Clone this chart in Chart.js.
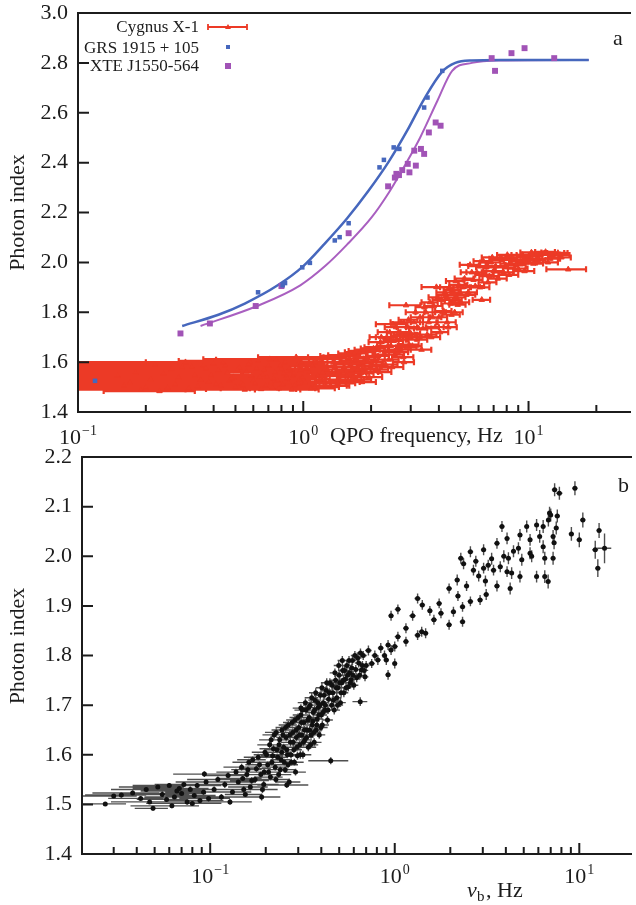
<!DOCTYPE html>
<html>
<head>
<meta charset="utf-8">
<script src="https://cdn.jsdelivr.net/npm/chart.js@4.4.0/dist/chart.umd.min.js"></script>
<style>
  body { margin: 0; background: #fff; width: 636px; height: 905px; overflow: hidden; position: relative; }
  canvas { position: absolute; left: 0; }
  #panelA { top: 0; }
  #panelB { top: 440px; }
</style>
</head>
<body>
<canvas id="panelA" width="636" height="450"></canvas>
<canvas id="panelB" width="636" height="465"></canvas>
<script>
// ---------- panel a : photon index vs QPO frequency ----------
// Cygnus X-1 (QPO freq, Hz / photon index / freq error)
const cygFreq = [
  0.30, 0.36, 0.26, 0.42, 0.24, 0.33, 0.21, 0.46, 0.38, 0.27,
  0.20, 0.43, 0.31, 0.55, 0.23, 0.49, 0.17, 0.15, 0.19, 0.35,
  0.29, 0.40, 0.52, 0.58, 0.62, 0.56, 0.66, 0.60, 0.72, 0.68,
  0.78, 0.53, 0.84, 0.88, 0.94, 0.76, 0.98, 0.45, 0.70, 0.80,
  0.64, 0.74, 0.86, 0.92, 0.96, 0.50, 0.47, 0.82, 0.90,
  1.02, 1.06, 1.10, 1.12, 1.16, 1.20, 1.24, 1.28, 1.32, 1.36,
  1.40, 1.44, 1.48, 1.52, 1.56, 1.60, 1.64, 1.68, 1.72, 1.76,
  1.80, 1.84, 1.88, 1.92, 1.96, 2.00,
  2.05, 2.10, 2.15, 2.20, 2.25, 2.30, 2.35, 2.40, 2.45, 2.50,
  2.55, 2.60, 2.65, 2.70, 2.75, 2.80, 2.86, 2.90, 2.95,
  3.00, 3.10, 3.20, 3.30, 3.40, 3.50, 3.60, 3.70, 3.80, 3.90,
  4.00, 4.10, 4.20, 4.30, 4.40, 4.50, 4.60, 4.70, 4.80, 4.90,
  5.00, 5.20, 5.40, 5.60, 5.80, 6.00, 6.20, 6.40, 6.60, 6.80, 7.00, 7.30, 7.60, 7.90,
  8.20, 8.50, 8.80, 9.20, 9.60, 10.0, 10.5, 11.0, 11.6, 12.2, 12.8, 13.5, 14.0, 15.0
];
const cygIndex = [
  1.600, 1.585, 1.572, 1.568, 1.555, 1.548, 1.532, 1.560, 1.522, 1.512,
  1.500, 1.506, 1.495, 1.490, 1.484, 1.540, 1.520, 1.545, 1.490, 1.530,
  1.580, 1.595, 1.578, 1.600, 1.575, 1.562, 1.550, 1.528, 1.520, 1.505,
  1.495, 1.515, 1.545, 1.565, 1.590, 1.610, 1.598, 1.587, 1.585, 1.572,
  1.540, 1.535, 1.520, 1.508, 1.530, 1.500, 1.525, 1.555, 1.545,
  1.520, 1.560, 1.585, 1.500, 1.545, 1.612, 1.530, 1.570, 1.505, 1.598,
  1.550, 1.625, 1.520, 1.580, 1.545, 1.615, 1.565, 1.635, 1.530, 1.595,
  1.555, 1.645, 1.575, 1.620, 1.540, 1.600,
  1.655, 1.570, 1.625, 1.680, 1.590, 1.645, 1.700, 1.610, 1.665, 1.752,
  1.630, 1.690, 1.720, 1.650, 1.705, 1.600, 1.828, 1.740, 1.670,
  1.715, 1.760, 1.690, 1.780, 1.735, 1.800, 1.760, 1.700, 1.825, 1.901,
  1.780, 1.850, 1.805, 1.870, 1.740, 1.835, 1.890, 1.800, 1.860, 1.910,
  1.840, 1.935, 1.880, 1.960, 1.905, 1.985, 1.850, 1.950, 1.920, 2.000, 1.965, 1.935, 2.010, 1.980,
  1.950, 2.020, 1.990, 2.005, 1.965, 2.025, 1.995, 2.015, 2.035, 2.000, 2.030, 2.038, 2.020, 1.972
];
const cygFreqErr = [
  0.26, 0.32, 0.22, 0.36, 0.21, 0.29, 0.15, 0.40, 0.33, 0.24,
  0.14, 0.36, 0.27, 0.42, 0.10, 0.41, 0.09, 0.07, 0.11, 0.25,
  0.20, 0.30, 0.35, 0.38, 0.35, 0.32, 0.40, 0.36, 0.35, 0.38,
  0.35, 0.33, 0.30, 0.35, 0.30, 0.35, 0.30, 0.30, 0.25, 0.25,
  0.22, 0.25, 0.20, 0.22, 0.25, 0.25, 0.28, 0.22, 0.20,
  0.30, 0.28, 0.30, 0.32, 0.25, 0.28, 0.30, 0.25, 0.28, 0.25,
  0.25, 0.25, 0.30, 0.25, 0.25, 0.25, 0.25, 0.25, 0.28, 0.25,
  0.25, 0.25, 0.25, 0.25, 0.28, 0.25,
  0.25, 0.28, 0.25, 0.25, 0.25, 0.25, 0.25, 0.25, 0.25, 0.40,
  0.25, 0.30, 0.30, 0.30, 0.30, 0.30, 0.45, 0.30, 0.30,
  0.30, 0.30, 0.35, 0.30, 0.30, 0.35, 0.30, 0.35, 0.35, 0.55,
  0.35, 0.35, 0.35, 0.40, 0.40, 0.40, 0.40, 0.40, 0.45, 0.45,
  0.45, 0.50, 0.50, 0.60, 0.55, 0.60, 0.55, 0.60, 0.60, 0.70, 0.70, 0.70, 0.80, 0.80,
  0.80, 0.90, 0.90, 1.00, 1.00, 1.10, 1.10, 1.20, 1.20, 1.30, 1.30, 1.40, 1.40, 3.00
];
// more Cygnus X-1 points filling the dense band
const cygFreqMore = [
  0.16, 0.18, 0.22, 0.25, 0.28, 0.32, 0.34, 0.37, 0.39, 0.41, 0.44, 0.48,
  0.51, 0.54, 0.57, 0.59, 0.61, 0.63, 0.65, 0.67, 0.69, 0.71, 0.73, 0.75,
  0.77, 0.79, 0.81, 0.83, 0.85, 0.87, 0.89, 0.91, 0.93, 0.95, 0.97, 0.99,
  1.03, 1.08, 1.13, 1.18, 1.22, 1.26, 1.30, 1.34, 1.38, 1.42, 1.46, 1.50,
  1.54, 1.58, 1.62, 1.66, 1.70, 1.74, 1.78, 1.82, 1.86, 1.90, 1.94, 1.98,
  2.08, 2.12, 2.18, 2.22, 2.28, 2.32, 2.38, 2.42, 2.48, 2.52,
  2.58, 2.62, 2.68, 2.72, 2.78, 2.83, 2.88, 2.93, 2.98,
  3.05, 3.15, 3.25, 3.35, 3.45, 3.55, 3.65, 3.75, 3.85, 3.95,
  4.05, 4.15, 4.25, 4.35, 4.45, 4.55, 4.65, 4.75, 4.85, 4.95,
  5.10, 5.30, 5.50, 5.70, 5.90, 6.10, 6.30, 6.50, 6.70, 6.90,
  7.15, 7.45, 7.75, 8.05, 8.35, 8.65, 9.00, 9.40, 9.80,
  10.3, 10.8, 11.3, 11.9, 12.5, 13.1, 13.8
];
const cygIndexMore = [
  1.505, 1.560, 1.590, 1.498, 1.540, 1.582, 1.503, 1.575, 1.548, 1.512, 1.598, 1.535,
  1.568, 1.508, 1.590, 1.545, 1.515, 1.605, 1.492, 1.570, 1.540, 1.612, 1.498, 1.560,
  1.525, 1.585, 1.510, 1.600, 1.535, 1.575, 1.490, 1.555, 1.620, 1.515, 1.568, 1.540,
  1.575, 1.495, 1.600, 1.530, 1.558, 1.505, 1.620, 1.548, 1.580, 1.515, 1.600, 1.560,
  1.628, 1.525, 1.590, 1.540, 1.605, 1.570, 1.640, 1.520, 1.600, 1.560, 1.650, 1.585,
  1.610, 1.660, 1.560, 1.700, 1.630, 1.590, 1.665, 1.720, 1.580, 1.685,
  1.740, 1.640, 1.690, 1.760, 1.620, 1.710, 1.660, 1.770, 1.700,
  1.665, 1.800, 1.735, 1.650, 1.820, 1.710, 1.840, 1.780, 1.740, 1.860,
  1.720, 1.800, 1.880, 1.760, 1.900, 1.790, 1.850, 1.925, 1.830, 1.880,
  1.900, 1.870, 1.990, 1.930, 1.960, 1.900, 2.005, 1.980, 1.945, 2.020,
  1.985, 2.015, 1.960, 2.030, 1.995, 2.010, 1.975, 2.030, 2.000,
  2.040, 2.010, 2.030, 2.042, 2.015, 2.038, 2.030
];
const cygFreqErrMore = [
  0.08, 0.10, 0.15, 0.20, 0.18, 0.25, 0.22, 0.28, 0.30, 0.25, 0.35, 0.30,
  0.32, 0.28, 0.35, 0.30, 0.30, 0.35, 0.28, 0.32, 0.30, 0.35, 0.30, 0.30,
  0.28, 0.30, 0.30, 0.32, 0.28, 0.30, 0.28, 0.28, 0.30, 0.28, 0.30, 0.28,
  0.25, 0.30, 0.25, 0.28, 0.25, 0.30, 0.25, 0.25, 0.25, 0.28, 0.25, 0.25,
  0.25, 0.28, 0.25, 0.25, 0.25, 0.25, 0.25, 0.28, 0.25, 0.25, 0.25, 0.25,
  0.22, 0.25, 0.28, 0.25, 0.25, 0.30, 0.25, 0.28, 0.30, 0.25,
  0.28, 0.30, 0.25, 0.28, 0.30, 0.30, 0.30, 0.28, 0.30,
  0.30, 0.30, 0.30, 0.35, 0.30, 0.35, 0.30, 0.35, 0.35, 0.35,
  0.35, 0.40, 0.35, 0.40, 0.40, 0.40, 0.40, 0.45, 0.40, 0.45,
  0.45, 0.50, 0.55, 0.55, 0.60, 0.60, 0.60, 0.65, 0.65, 0.70,
  0.70, 0.75, 0.80, 0.80, 0.85, 0.90, 0.90, 1.00, 1.00,
  1.10, 1.10, 1.20, 1.20, 1.30, 1.30, 1.40
];

// GRS 1915+105 points and model curve
const grsFreq  = [0.119, 0.63, 0.81, 0.83, 0.99, 1.07, 1.38, 1.45, 1.59, 2.18, 2.28, 2.52, 2.67, 3.44, 3.56, 4.14];
const grsIndex = [1.525, 1.880, 1.908, 1.917, 1.980, 1.998, 2.088, 2.101, 2.157, 2.381, 2.411, 2.461, 2.455, 2.621, 2.661, 2.768];
const grsFitFreq  = [0.29, 0.42, 0.55, 0.77, 1.00, 1.23, 1.56, 1.94, 2.40, 2.90, 3.44, 4.14, 4.73, 5.6, 7.5, 18.5];
const grsFitIndex = [1.745, 1.790, 1.835, 1.908, 1.985, 2.070, 2.175, 2.285, 2.405, 2.530, 2.655, 2.765, 2.800, 2.810, 2.812, 2.812];

// XTE J1550-564 points and model curve
const xteFreq  = [0.285, 0.385, 0.615, 0.80, 1.59, 2.38, 2.55, 2.59, 2.66, 2.75, 2.91, 2.96, 3.11, 3.16, 3.33, 3.44, 3.61, 3.87, 4.07, 6.86, 7.10, 8.40, 9.60, 13.0];
const xteIndex = [1.715, 1.755, 1.825, 1.905, 2.117, 2.305, 2.340, 2.355, 2.350, 2.370, 2.395, 2.361, 2.448, 2.388, 2.455, 2.435, 2.521, 2.561, 2.548, 2.819, 2.768, 2.839, 2.859, 2.819];
const xteFitFreq  = [0.35, 0.62, 0.97, 1.25, 1.56, 2.01, 2.40, 2.85, 3.30, 3.94, 4.58, 5.6, 7.5, 18.5];
const xteFitIndex = [1.745, 1.824, 1.908, 1.985, 2.070, 2.180, 2.280, 2.395, 2.500, 2.648, 2.768, 2.800, 2.810, 2.812];

const aMajorTicks = [0.1, 1, 10];
const aMinorTicks = [0.2, 0.3, 0.4, 0.5, 0.6, 0.7, 0.8, 0.9, 2, 3, 4, 5, 6, 7, 8, 9, 20];
const aTickExps = ['\u22121', '0', '1'];

// ---------- panel b : photon index vs break frequency ----------
const bFreq = [
  // 0.02 - 0.1 Hz
  0.027, 0.030, 0.033, 0.038, 0.042, 0.045, 0.047, 0.049, 0.052, 0.055,
  0.058, 0.060, 0.062, 0.064, 0.066, 0.068, 0.070, 0.072, 0.075, 0.078,
  0.080, 0.082, 0.085, 0.088, 0.092, 0.095, 0.098,
  // 0.1 - 0.2 Hz
  0.093, 0.105, 0.110, 0.115, 0.120, 0.125, 0.128, 0.132, 0.138, 0.142,
  0.148, 0.152, 0.158, 0.162, 0.168, 0.190, 0.178, 0.182, 0.188, 0.195, 0.198,
  // 0.2 - 0.3 Hz
  0.205, 0.210, 0.212, 0.218, 0.222, 0.225, 0.230, 0.235, 0.238, 0.242,
  0.245, 0.250, 0.255, 0.258, 0.262, 0.265, 0.268, 0.272, 0.275, 0.280,
  0.284, 0.288, 0.290, 0.293, 0.297, 0.260, 0.310,
  // 0.3 - 0.45 Hz
  0.302, 0.306, 0.310, 0.314, 0.318, 0.322, 0.326, 0.330, 0.335, 0.340,
  0.344, 0.348, 0.352, 0.357, 0.362, 0.366, 0.370, 0.375, 0.380, 0.385,
  0.390, 0.395, 0.400, 0.405, 0.410, 0.418, 0.425, 0.432, 0.438, 0.445, 0.450,
  // 0.45 - 0.7 Hz
  0.455, 0.462, 0.470, 0.478, 0.485, 0.492, 0.500, 0.508, 0.515, 0.522,
  0.530, 0.540, 0.550, 0.560, 0.570, 0.580, 0.590, 0.600, 0.615, 0.630,
  0.645, 0.650, 0.660, 0.675, 0.690,
  // 0.7 - 1 Hz
  0.700, 0.720, 0.750, 0.780, 0.810, 0.840, 0.880, 0.900, 0.920, 0.920, 0.955, 0.955, 1.000,
  // 1 - 2 Hz
  1.000, 1.040, 1.040, 1.150, 1.150, 1.250, 1.330, 1.330, 1.400, 1.410,
  1.470, 1.550, 1.630, 1.740, 1.780, 1.970, 1.970, 2.080,
  // 2 - 4 Hz
  2.180, 2.200, 2.280, 2.330, 2.330, 2.360, 2.450, 2.570, 2.570, 2.670,
  2.750, 2.850, 2.900, 3.030, 3.030, 3.100, 3.130, 3.210, 3.350, 3.430,
  3.580, 3.580, 3.730, 3.810, 3.900,
  // 4 - 8 Hz
  4.06, 4.06, 4.13, 4.22, 4.30, 4.40, 4.68, 4.77, 4.77, 4.88,
  5.19, 5.41, 5.41, 5.52, 5.87, 5.87, 6.10, 6.37, 6.37, 6.50,
  6.50, 6.78, 6.80, 6.90, 7.00, 7.21, 7.21, 7.30, 7.35, 7.50, 7.60, 7.80,
  // 8 - 14 Hz
  9.06, 9.47, 10.00, 10.45, 12.20, 12.60, 12.80, 13.70
];
const bIndex = [
  1.501, 1.517, 1.519, 1.523, 1.512, 1.530, 1.505, 1.492, 1.535, 1.520,
  1.510, 1.538, 1.497, 1.515, 1.527, 1.532, 1.522, 1.540, 1.505, 1.530,
  1.502, 1.518, 1.538, 1.508, 1.525, 1.545, 1.512,
  1.561, 1.530, 1.550, 1.515, 1.540, 1.558, 1.505, 1.525, 1.565, 1.545,
  1.575, 1.530, 1.560, 1.585, 1.548, 1.515, 1.572, 1.595, 1.560, 1.540, 1.605,
  1.580, 1.620, 1.555, 1.598, 1.640, 1.575, 1.610, 1.560, 1.630, 1.590,
  1.650, 1.615, 1.570, 1.635, 1.600, 1.660, 1.545, 1.625, 1.585, 1.645,
  1.610, 1.670, 1.565, 1.635, 1.598, 1.539, 1.694,
  1.655, 1.620, 1.680, 1.640, 1.600, 1.665, 1.630, 1.690, 1.650, 1.615,
  1.675, 1.700, 1.640, 1.660, 1.685, 1.625, 1.710, 1.650, 1.672, 1.695,
  1.640, 1.720, 1.680, 1.660, 1.705, 1.690, 1.730, 1.670, 1.712, 1.745, 1.588,
  1.700, 1.725, 1.690, 1.750, 1.715, 1.735, 1.760, 1.705, 1.745, 1.770,
  1.725, 1.752, 1.780, 1.737, 1.765, 1.751, 1.790, 1.740, 1.772, 1.795,
  1.760, 1.707, 1.771, 1.800, 1.757,
  1.780, 1.810, 1.784, 1.800, 1.791, 1.815, 1.800, 1.791, 1.821, 1.761, 1.811, 1.880, 1.784,
  1.818, 1.838, 1.893, 1.855, 1.828, 1.880, 1.841, 1.915, 1.848, 1.902,
  1.845, 1.890, 1.872, 1.905, 1.885, 1.862, 1.935, 1.888,
  1.952, 1.920, 1.996, 1.868, 1.898, 1.985, 1.940, 2.009, 1.909, 1.972,
  1.990, 1.960, 1.912, 1.976, 2.013, 1.950, 1.923, 1.982, 1.995, 1.972,
  1.940, 2.026, 1.979, 2.060, 2.000,
  1.969, 2.036, 1.996, 1.935, 1.966, 2.010, 2.016, 2.043, 1.959, 1.993,
  2.060, 2.033, 2.006, 2.000, 1.959, 2.063, 2.040, 2.060, 2.019, 1.996,
  1.959, 1.949, 2.073, 2.087, 2.083, 2.040, 1.996, 2.027, 2.134, 2.057, 2.081, 2.127,
  2.045, 2.137, 2.033, 2.073, 2.013, 1.976, 2.052, 2.016
];
const bFreqErr = [
  0.008, 0.010, 0.012, 0.015, 0.014, 0.016, 0.018, 0.010, 0.020, 0.022,
  0.018, 0.022, 0.025, 0.020, 0.024, 0.030, 0.025, 0.022, 0.030, 0.028,
  0.035, 0.025, 0.030, 0.030, 0.035, 0.030, 0.030,
  0.030, 0.030, 0.035, 0.040, 0.035, 0.030, 0.040, 0.035, 0.030, 0.035,
  0.030, 0.040, 0.035, 0.030, 0.040, 0.050, 0.035, 0.030, 0.035, 0.040, 0.030,
  0.030, 0.030, 0.035, 0.030, 0.030, 0.035, 0.030, 0.040, 0.030, 0.030,
  0.030, 0.030, 0.035, 0.030, 0.030, 0.030, 0.040, 0.030, 0.030, 0.030,
  0.030, 0.030, 0.040, 0.030, 0.030, 0.080, 0.030,
  0.030, 0.030, 0.030, 0.030, 0.035, 0.030, 0.030, 0.030, 0.030, 0.035,
  0.030, 0.030, 0.030, 0.030, 0.030, 0.035, 0.030, 0.030, 0.030, 0.030,
  0.030, 0.030, 0.030, 0.035, 0.030, 0.030, 0.030, 0.030, 0.030, 0.030, 0.110,
  0.030, 0.030, 0.035, 0.030, 0.030, 0.030, 0.030, 0.035, 0.030, 0.030,
  0.030, 0.030, 0.030, 0.030, 0.030, 0.030, 0.030, 0.035, 0.030, 0.030,
  0.030, 0.060, 0.030, 0.030, 0.030,
  0.030, 0.030, 0.030, 0.030, 0.030, 0.030, 0.030, 0.030, 0.030, 0.030, 0.030, 0.030, 0.030,
  0.040, 0.040, 0.040, 0.040, 0.040, 0.050, 0.050, 0.050, 0.050, 0.050,
  0.050, 0.050, 0.060, 0.060, 0.060, 0.070, 0.070, 0.070,
  0.070, 0.070, 0.080, 0.080, 0.080, 0.080, 0.080, 0.090, 0.090, 0.090,
  0.090, 0.090, 0.100, 0.100, 0.100, 0.100, 0.100, 0.100, 0.100, 0.120,
  0.120, 0.120, 0.120, 0.120, 0.120,
  0.12, 0.12, 0.12, 0.12, 0.13, 0.13, 0.14, 0.14, 0.14, 0.14,
  0.15, 0.15, 0.15, 0.15, 0.16, 0.16, 0.17, 0.18, 0.18, 0.18,
  0.18, 0.19, 0.20, 0.19, 0.20, 0.20, 0.20, 0.22, 0.25, 0.22, 0.25, 0.30,
  0.30, 0.30, 0.35, 0.35, 0.45, 0.40, 0.40, 1.20
];
const bIndexErr = [
  0.004, 0.004, 0.005, 0.005, 0.004, 0.005, 0.004, 0.005, 0.005, 0.006,
  0.005, 0.005, 0.005, 0.006, 0.005, 0.005, 0.006, 0.005, 0.006, 0.006,
  0.006, 0.006, 0.005, 0.006, 0.006, 0.006, 0.006,
  0.006, 0.006, 0.006, 0.006, 0.007, 0.006, 0.006, 0.006, 0.007, 0.006,
  0.007, 0.007, 0.006, 0.007, 0.007, 0.007, 0.007, 0.007, 0.007, 0.007, 0.007,
  0.007, 0.007, 0.007, 0.007, 0.008, 0.007, 0.007, 0.007, 0.008, 0.007,
  0.008, 0.007, 0.007, 0.008, 0.007, 0.008, 0.007, 0.008, 0.007, 0.008,
  0.007, 0.008, 0.007, 0.008, 0.008, 0.006, 0.008,
  0.008, 0.008, 0.008, 0.008, 0.008, 0.008, 0.008, 0.008, 0.008, 0.008,
  0.008, 0.008, 0.008, 0.008, 0.008, 0.008, 0.008, 0.008, 0.008, 0.008,
  0.008, 0.008, 0.008, 0.008, 0.008, 0.008, 0.009, 0.008, 0.009, 0.009, 0.007,
  0.009, 0.009, 0.009, 0.009, 0.009, 0.009, 0.009, 0.009, 0.009, 0.009,
  0.009, 0.009, 0.009, 0.009, 0.009, 0.009, 0.009, 0.009, 0.009, 0.009,
  0.009, 0.009, 0.009, 0.009, 0.009,
  0.009, 0.010, 0.009, 0.010, 0.010, 0.010, 0.010, 0.010, 0.010, 0.010, 0.010, 0.010, 0.010,
  0.010, 0.010, 0.010, 0.010, 0.010, 0.010, 0.010, 0.010, 0.010, 0.010,
  0.010, 0.010, 0.010, 0.010, 0.010, 0.010, 0.010, 0.010,
  0.011, 0.010, 0.011, 0.010, 0.010, 0.011, 0.010, 0.011, 0.010, 0.011,
  0.011, 0.011, 0.010, 0.011, 0.011, 0.011, 0.011, 0.011, 0.012, 0.011,
  0.011, 0.011, 0.011, 0.011, 0.012,
  0.011, 0.012, 0.012, 0.012, 0.012, 0.012, 0.012, 0.012, 0.012, 0.012,
  0.012, 0.012, 0.012, 0.012, 0.012, 0.012, 0.013, 0.013, 0.013, 0.013,
  0.013, 0.014, 0.013, 0.013, 0.013, 0.013, 0.013, 0.013, 0.013, 0.013, 0.013, 0.013,
  0.014, 0.014, 0.015, 0.015, 0.018, 0.018, 0.015, 0.030
];
// extra points of the dense part (0.15 - 0.7 Hz)
const bFreqDense = [
  0.150, 0.155, 0.160, 0.165, 0.170, 0.175, 0.185, 0.192, 0.196,
  0.202, 0.207, 0.214, 0.216, 0.220, 0.227, 0.228, 0.232, 0.236, 0.240, 0.244, 0.248,
  0.252, 0.256, 0.260, 0.264, 0.270, 0.274, 0.278, 0.282, 0.286, 0.292, 0.295, 0.299,
  0.304, 0.308, 0.312, 0.316, 0.320, 0.324, 0.328, 0.333, 0.338, 0.342,
  0.346, 0.350, 0.355, 0.360, 0.364, 0.368, 0.373, 0.378, 0.383, 0.388,
  0.393, 0.398, 0.403, 0.408, 0.414, 0.421, 0.428, 0.435, 0.442,
  0.458, 0.466, 0.474, 0.482, 0.490, 0.497, 0.504, 0.512, 0.520, 0.527,
  0.535, 0.545, 0.555, 0.565, 0.575, 0.585, 0.595, 0.608, 0.622, 0.638,
  0.652, 0.668, 0.683
];
const bIndexDense = [
  1.552, 1.520, 1.570, 1.535, 1.590, 1.550, 1.580, 1.530, 1.565,
  1.600, 1.565, 1.630, 1.585, 1.612, 1.550, 1.645, 1.595, 1.620, 1.570, 1.605, 1.640,
  1.585, 1.655, 1.610, 1.580, 1.640, 1.600, 1.665, 1.625, 1.585, 1.650, 1.615, 1.675,
  1.640, 1.600, 1.665, 1.690, 1.625, 1.650, 1.705, 1.635, 1.670, 1.695,
  1.650, 1.620, 1.715, 1.668, 1.645, 1.690, 1.725, 1.660, 1.705, 1.680,
  1.700, 1.655, 1.735, 1.685, 1.720, 1.700, 1.745, 1.690, 1.725,
  1.740, 1.710, 1.765, 1.735, 1.700, 1.780, 1.745, 1.725, 1.790, 1.750,
  1.770, 1.735, 1.760, 1.790, 1.745, 1.775, 1.760, 1.800, 1.755, 1.785,
  1.805, 1.780, 1.770
];
const bFreqErrDense = [
  0.040, 0.035, 0.030, 0.040, 0.030, 0.035, 0.030, 0.040, 0.030,
  0.030, 0.035, 0.030, 0.030, 0.035, 0.040, 0.030, 0.030, 0.030, 0.035, 0.030, 0.030,
  0.035, 0.030, 0.030, 0.035, 0.030, 0.030, 0.030, 0.030, 0.035, 0.030, 0.030, 0.030,
  0.030, 0.035, 0.030, 0.030, 0.035, 0.030, 0.030, 0.030, 0.030, 0.030,
  0.030, 0.035, 0.030, 0.030, 0.035, 0.030, 0.030, 0.030, 0.030, 0.030,
  0.030, 0.035, 0.030, 0.030, 0.030, 0.030, 0.030, 0.035, 0.030,
  0.030, 0.035, 0.030, 0.030, 0.035, 0.030, 0.030, 0.035, 0.030, 0.030,
  0.030, 0.035, 0.030, 0.030, 0.035, 0.030, 0.030, 0.030, 0.035, 0.030,
  0.030, 0.030, 0.035
];
const bIndexErrDense = [
  0.007, 0.006, 0.007, 0.007, 0.007, 0.007, 0.007, 0.007, 0.007,
  0.007, 0.007, 0.008, 0.007, 0.007, 0.007, 0.008, 0.007, 0.008, 0.007, 0.007, 0.008,
  0.007, 0.008, 0.007, 0.007, 0.008, 0.007, 0.008, 0.008, 0.007, 0.008, 0.008, 0.008,
  0.008, 0.008, 0.008, 0.008, 0.008, 0.008, 0.008, 0.008, 0.008, 0.008,
  0.008, 0.008, 0.009, 0.008, 0.008, 0.008, 0.009, 0.008, 0.008, 0.008,
  0.008, 0.008, 0.009, 0.008, 0.009, 0.008, 0.009, 0.008, 0.009,
  0.009, 0.009, 0.009, 0.009, 0.009, 0.009, 0.009, 0.009, 0.009, 0.009,
  0.009, 0.009, 0.009, 0.009, 0.009, 0.009, 0.009, 0.009, 0.009, 0.009,
  0.009, 0.009, 0.009
];

const bMajorTicks = [0.1, 1, 10];
const bMinorTicks = [0.03, 0.04, 0.05, 0.06, 0.07, 0.08, 0.09, 0.2, 0.3, 0.4, 0.5, 0.6, 0.7, 0.8, 0.9, 2, 3, 4, 5, 6, 7, 8, 9];
const bTickExps = ['\u22121', '0', '1'];

// ---------- styling ----------
const SERIF = '"Liberation Serif", "Times New Roman", serif';
const INK = '#1c1c1c';
const RED = '#ec3a26';
const BLUE = '#4667bd';
const PURPLE = '#a153b6';

const pts = (xs, ys) => xs.map((x, i) => ({x: x, y: ys[i]}));

const allCygF = cygFreq.concat(cygFreqMore);
const allCygG = cygIndex.concat(cygIndexMore);
const allCygE = cygFreqErr.concat(cygFreqErrMore);
const allBF = bFreq.concat(bFreqDense);
const allBG = bIndex.concat(bIndexDense);
const allBFE = bFreqErr.concat(bFreqErrDense);
const allBGE = bIndexErr.concat(bIndexErrDense);

// error bars, drawn under the markers and clipped to the plot area
const errBars = {
  id: 'errBars',
  beforeDatasetsDraw(chart, args, opts) {
    const {ctx, chartArea: a, scales: {x, y}} = chart;
    ctx.save();
    ctx.beginPath();
    ctx.rect(a.left, a.top, a.right - a.left, a.bottom - a.top);
    ctx.clip();
    opts.sets.forEach(s => {
      ctx.strokeStyle = s.color;
      ctx.lineWidth = s.width;
      ctx.beginPath();
      s.f.forEach((f, i) => {
        const py = y.getPixelForValue(s.g[i]);
        const lo = f - s.df[i] > 0 ? x.getPixelForValue(f - s.df[i]) : a.left - 5;
        const hi = x.getPixelForValue(f + s.df[i]);
        ctx.moveTo(lo, py); ctx.lineTo(hi, py);
        if (s.cap) {
          ctx.moveTo(lo, py - s.cap); ctx.lineTo(lo, py + s.cap);
          ctx.moveTo(hi, py - s.cap); ctx.lineTo(hi, py + s.cap);
        }
        if (s.dg) {
          const px = x.getPixelForValue(f);
          ctx.moveTo(px, y.getPixelForValue(s.g[i] - s.dg[i]));
          ctx.lineTo(px, y.getPixelForValue(s.g[i] + s.dg[i]));
        }
      });
      ctx.stroke();
    });
    ctx.restore();
  }
};

function powerLabel(ctx, x, base, exp) {
  ctx.font = '22px ' + SERIF;
  const wb = ctx.measureText('10').width;
  ctx.font = '14px ' + SERIF;
  const we = ctx.measureText(exp).width;
  const x0 = x - (wb + we + 1) / 2;
  ctx.textAlign = 'left';
  ctx.textBaseline = 'alphabetic';
  ctx.font = '22px ' + SERIF;
  ctx.fillText('10', x0, base);
  ctx.font = '14px ' + SERIF;
  ctx.fillText(exp, x0 + wb + 1, base - 9);
}

// axes frame, inward ticks, log tick labels and axis titles
const frame = {
  id: 'frame',
  afterDraw(chart, args, o) {
    const {ctx, chartArea: a, scales: {x, y}} = chart;
    ctx.save();
    ctx.strokeStyle = INK;
    ctx.lineWidth = 2;
    ctx.beginPath();
    ctx.moveTo(a.left - 1, a.top); ctx.lineTo(a.right, a.top);
    ctx.moveTo(a.left, a.top); ctx.lineTo(a.left, a.bottom); ctx.lineTo(a.right, a.bottom);
    o.major.forEach(v => {
      const px = x.getPixelForValue(v);
      ctx.moveTo(px, a.bottom); ctx.lineTo(px, a.bottom - 11);
    });
    o.minor.forEach(v => {
      const px = x.getPixelForValue(v);
      ctx.moveTo(px, a.bottom); ctx.lineTo(px, a.bottom - 7);
    });
    y.ticks.forEach(t => {
      const py = y.getPixelForValue(t.value);
      ctx.moveTo(a.left, py); ctx.lineTo(a.left + 11, py);
    });
    ctx.stroke();

    ctx.fillStyle = INK;
    o.major.forEach((v, i) => powerLabel(ctx, x.getPixelForValue(v), o.tickBase, o.exps[i]));

    ctx.save();
    ctx.translate(18, o.yTitleY);
    ctx.rotate(-Math.PI / 2);
    ctx.font = '22px ' + SERIF;
    ctx.textAlign = 'center';
    ctx.textBaseline = 'middle';
    ctx.fillText('Photon index', 0, 0);
    ctx.restore();

    ctx.font = '22px ' + SERIF;
    ctx.textAlign = 'left';
    ctx.textBaseline = 'alphabetic';
    ctx.fillText(o.panel, o.panelX, o.panelBase);
    o.xTitle(ctx);
    ctx.restore();
  }
};

function yAxis(min, max, step, width) {
  return {
    min: min, max: max,
    ticks: {
      stepSize: step, padding: 10, color: INK,
      font: {family: SERIF, size: 22},
      callback: v => v.toFixed(1)
    },
    grid: {display: false, drawTicks: false},
    border: {display: false},
    afterFit: s => { s.width = width; s.paddingTop = 0; s.paddingBottom = 0; }
  };
}

function xAxis(min, max, height) {
  return {
    type: 'logarithmic', min: min, max: max,
    ticks: {display: false},
    grid: {display: false, drawTicks: false},
    border: {display: false},
    afterFit: s => { s.height = height; s.paddingLeft = 0; s.paddingRight = 0; }
  };
}

// ---------- panel a ----------
new Chart(document.getElementById('panelA'), {
  type: 'scatter',
  data: {
    datasets: [
      {label: 'GRS 1915 + 105', data: pts(grsFreq, grsIndex), pointStyle: 'rect', pointRadius: 3.2,
       backgroundColor: BLUE, borderColor: BLUE, borderWidth: 0, order: 1},
      {label: 'XTE J1550-564', data: pts(xteFreq, xteIndex), pointStyle: 'rect', pointRadius: 4.2,
       backgroundColor: PURPLE, borderColor: PURPLE, borderWidth: 0, order: 2},
      {label: 'GRS fit', data: pts(grsFitFreq, grsFitIndex), showLine: true, pointRadius: 0,
       borderColor: BLUE, borderWidth: 2.5, cubicInterpolationMode: 'monotone', order: 3},
      {label: 'XTE fit', data: pts(xteFitFreq, xteFitIndex), showLine: true, pointRadius: 0,
       borderColor: '#a95fc0', borderWidth: 2, cubicInterpolationMode: 'monotone', order: 4},
      {label: 'Cygnus X-1', data: pts(allCygF, allCygG), pointStyle: 'triangle', pointRadius: 3.2,
       backgroundColor: RED, borderColor: RED, borderWidth: 1, order: 5}
    ]
  },
  options: {
    responsive: false,
    animation: false,
    devicePixelRatio: 1,
    layout: {padding: {top: 13, right: 0, bottom: 0, left: 0}},
    scales: {
      x: xAxis(0.1, 28.5, 38),
      y: yAxis(1.4, 3.0, 0.2, 78)
    },
    plugins: {
      legend: {display: false},
      tooltip: {enabled: false},
      errBars: {sets: [{f: allCygF, g: allCygG, df: allCygE, color: RED, width: 2.2, cap: 3}]},
      frame: {
        major: aMajorTicks, minor: aMinorTicks, exps: aTickExps, tickBase: 444,
        yTitleY: 212.5, panel: 'a', panelX: 613, panelBase: 45,
        xTitle: ctx => {
          ctx.font = '22px ' + SERIF;
          ctx.fillText('QPO frequency, Hz', 330, 442);
        }
      }
    }
  },
  plugins: [errBars, frame, {
    id: 'keyA',
    afterDraw(chart) {
      const ctx = chart.ctx;
      ctx.save();
      ctx.fillStyle = INK;
      ctx.font = '17px ' + SERIF;
      ctx.textAlign = 'right';
      ctx.textBaseline = 'alphabetic';
      ctx.fillText('Cygnus X-1', 199, 32);
      ctx.fillText('GRS 1915 + 105', 199, 53);
      ctx.fillText('XTE J1550-564', 199, 71);
      ctx.strokeStyle = RED;
      ctx.lineWidth = 1.8;
      ctx.beginPath();
      ctx.moveTo(208, 27); ctx.lineTo(247, 27);
      ctx.moveTo(208, 24); ctx.lineTo(208, 30);
      ctx.moveTo(247, 24); ctx.lineTo(247, 30);
      ctx.stroke();
      ctx.fillStyle = RED;
      ctx.beginPath();
      ctx.moveTo(228, 24); ctx.lineTo(231, 29); ctx.lineTo(225, 29); ctx.closePath();
      ctx.fill();
      ctx.fillStyle = BLUE;
      ctx.fillRect(226, 45, 4, 4);
      ctx.fillStyle = PURPLE;
      ctx.fillRect(225, 63, 6, 6);
      ctx.restore();
    }
  }]
});

// ---------- panel b (canvas starts 10px above the panel's top line) ----------
new Chart(document.getElementById('panelB'), {
  type: 'scatter',
  data: {
    datasets: [
      {label: 'Cygnus X-1 break', data: pts(allBF, allBG), pointStyle: 'circle', pointRadius: 2.5,
       backgroundColor: '#111', borderColor: '#111', borderWidth: 0}
    ]
  },
  options: {
    responsive: false,
    animation: false,
    devicePixelRatio: 1,
    layout: {padding: {top: 17, right: 0, bottom: 0, left: 0}},
    scales: {
      x: xAxis(0.0202, 19.3, 51),
      y: yAxis(1.4, 2.2, 0.1, 82)
    },
    plugins: {
      legend: {display: false},
      tooltip: {enabled: false},
      errBars: {sets: [{f: allBF, g: allBG, df: allBFE, dg: allBGE, color: 'rgba(20,20,20,0.75)', width: 1.4}]},
      frame: {
        major: bMajorTicks, minor: bMinorTicks, exps: bTickExps, tickBase: 443,
        yTitleY: 206, panel: 'b', panelX: 618, panelBase: 52,
        xTitle: ctx => {
          ctx.font = 'italic 22px ' + SERIF;
          ctx.fillText('\u03bd', 467, 457);
          ctx.font = '15px ' + SERIF;
          ctx.fillText('b', 477, 461);
          ctx.font = '22px ' + SERIF;
          ctx.fillText(', Hz', 486, 457);
        }
      }
    }
  },
  plugins: [errBars, frame]
});
</script>
</body>
</html>
